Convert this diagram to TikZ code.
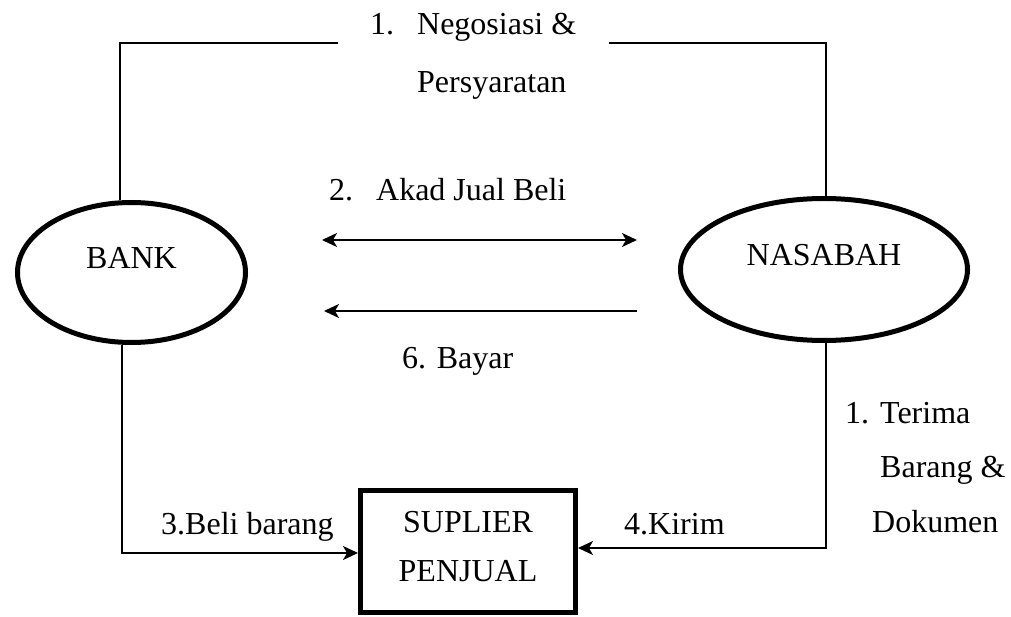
\documentclass[tikz,border=0pt]{standalone}
\usepackage{fontspec}
\setmainfont{Liberation Serif}
\usetikzlibrary{shapes.geometric,arrows.meta}
\begin{document}
\begin{tikzpicture}[x=1pt,y=-1pt,
  every node/.style={font=\fontsize{32}{38}\selectfont, inner sep=0pt},
  actor/.style={ellipse, draw, line width=5pt, text depth=30pt},
  party/.style={rectangle, draw, line width=5pt, align=center, text depth=10pt, font=\fontsize{32}{49}\selectfont},
  flow/.style={line width=1.6pt},
  arr/.style={flow, -{Stealth[length=15pt,width=14pt,inset=4pt]}},
  biarr/.style={flow, {Stealth[length=15pt,width=14pt,inset=4pt]}-{Stealth[length=15pt,width=14pt,inset=4pt]}},
  lbl/.style={anchor=base west},
]
\useasboundingbox (0,0) rectangle (1011,617);

% main nodes
\node[actor, minimum width=228pt, minimum height=140pt] (bank) at (131.5,272.5) {BANK};
\node[actor, minimum width=287pt, minimum height=142pt] (nasabah) at (824,269.5) {NASABAH};
\node[party, minimum width=215pt, minimum height=122pt] (suplier) at (468,551.5) {SUPLIER\\PENJUAL};

% corner / free-end coordinates
\coordinate (tl) at (120,43);
\coordinate (tlend) at (338,43);
\coordinate (trstart) at (609,43);
\coordinate (tr) at (826,43);
\coordinate (bl) at (122,553);
\coordinate (br) at (826,548);
\coordinate (akadL) at (322,240);
\coordinate (akadR) at (637,240);
\coordinate (bayarR) at (637,311);
\coordinate (bayarL) at (324,311);

% connectors
\draw[flow] (tl |- bank.north) -- (tl) -- (tlend);
\draw[flow] (trstart) -- (tr) -- (tr |- nasabah.north);
\draw[biarr] (akadL) -- (akadR);
\draw[arr] (bayarR) -- (bayarL);
\draw[arr] (bl |- bank.south) -- (bl) -- (bl -| suplier.west);
\draw[arr] (br |- nasabah.south) -- (br) -- (br -| suplier.east);

% labels
\node[lbl, font=\fontsize{32}{58}\selectfont] (lnego) at (370,35)
  {\begin{tabular}[t]{@{}l@{\hspace{23pt}}l@{}}1. & Negosiasi \&\\ & Persyaratan\end{tabular}};
\node[lbl] (lakad) at (329,201) {2.\hspace{23pt}Akad Jual Beli};
\node[lbl] (lbayar) at (402,368) {6. Bayar};
\node[lbl] (lbeli) at (161,534) {3.Beli barang};
\node[lbl] (lkirim) at (624,534) {4.Kirim};
\node[lbl, font=\fontsize{32}{54.5}\selectfont] (lterima) at (845,423)
  {\begin{tabular}[t]{@{}l@{\hspace{11pt}}l@{}}1. & Terima\\ & Barang \&\\ & \hspace*{-8pt}Dokumen\end{tabular}};
\end{tikzpicture}
\end{document}
